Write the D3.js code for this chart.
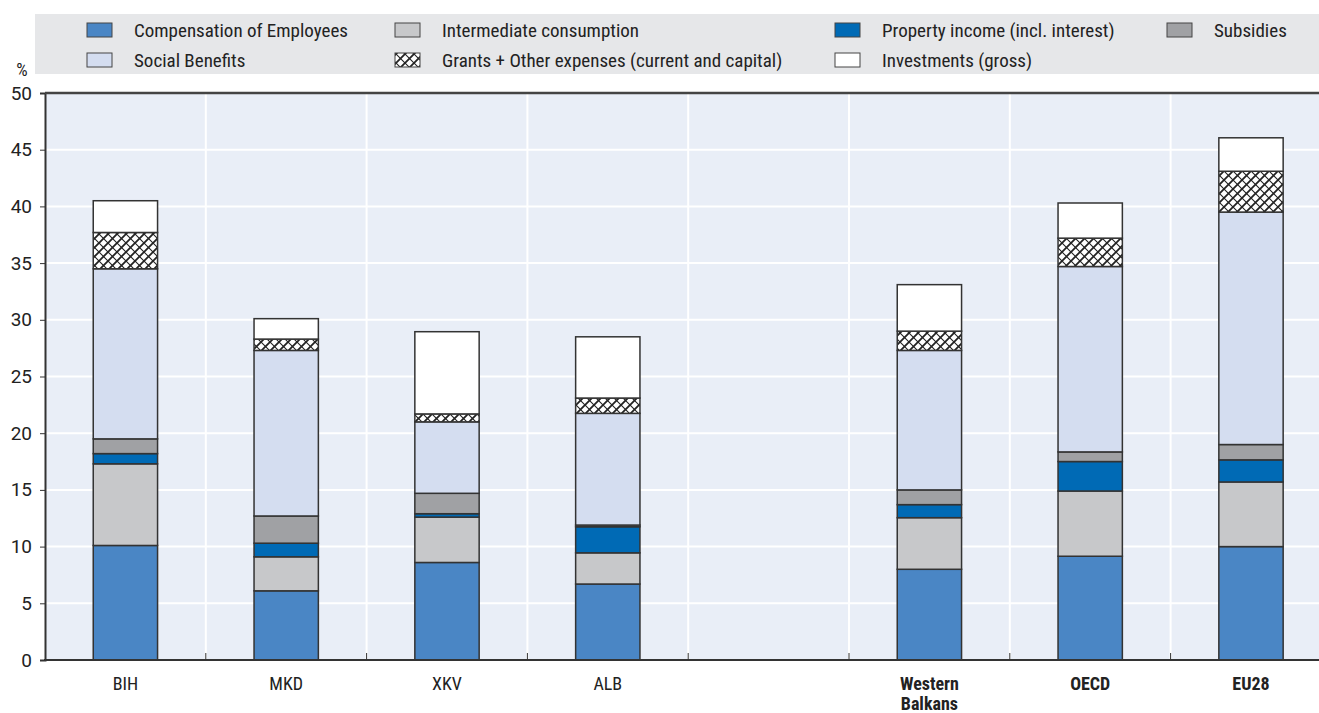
<!DOCTYPE html>
<html>
<head>
<meta charset="utf-8">
<script src="https://cdn.jsdelivr.net/npm/d3@7"></script>
<style>
  html, body { margin: 0; padding: 0; background: #fff; }
  svg { display: block; font-family: "Liberation Sans Narrow", "Roboto Condensed", "Arial Narrow", Roboto, sans-serif; }
</style>
</head>
<body>
<svg id="chart" width="1319" height="713"></svg>
<script>
// Categories (an empty slot separates countries from aggregates)
const categories = ["BIH", "MKD", "XKV", "ALB", "", "Western Balkans", "OECD", "EU28"];
const boldCategories = ["Western Balkans", "OECD", "EU28"];

// Expenditure components, % of GDP
const compensation = [10.1, 6.1, 8.6, 6.7, null, 8.0, 9.15, 10.0];
const intermediate = [7.2, 3.0, 4.0, 2.75, null, 4.55, 5.75, 5.7];
const property     = [0.9, 1.2, 0.3, 2.3, null, 1.15, 2.6, 1.95];
const subsidies    = [1.3, 2.4, 1.8, 0.15, null, 1.3, 0.85, 1.35];
const social       = [15.0, 14.6, 6.3, 9.85, null, 12.3, 16.35, 20.5];
const grants       = [3.2, 1.0, 0.7, 1.35, null, 1.7, 2.5, 3.6];
const investments  = [2.8, 1.8, 7.25, 5.4, null, 4.1, 3.1, 2.95];

const yTicks = [0, 5, 10, 15, 20, 25, 30, 35, 40, 45, 50];

const seriesDefs = [
  { key: "comp",  name: "Compensation of Employees", values: compensation, fill: "#4a86c5" },
  { key: "inter", name: "Intermediate consumption", values: intermediate, fill: "#c7c8ca" },
  { key: "prop",  name: "Property income (incl. interest)", values: property, fill: "#006ab5" },
  { key: "subs",  name: "Subsidies", values: subsidies, fill: "#a0a1a4" },
  { key: "soc",   name: "Social Benefits", values: social, fill: "#d4ddf0" },
  { key: "grant", name: "Grants + Other expenses (current and capital)", values: grants, fill: "url(#hatch)" },
  { key: "inv",   name: "Investments (gross)", values: investments, fill: "#ffffff" }
];

const rows = categories.map((c, i) => {
  const r = { cat: c };
  seriesDefs.forEach(s => { r[s.key] = s.values[i] == null ? 0 : s.values[i]; });
  return r;
});

const svg = d3.select("#chart");
const margin = { left: 45, top: 93, bottom: 660 };
const slotW = 160.8;
const plotRight = margin.left + slotW * categories.length;

// Cross-hatch fill for grants
const defs = svg.append("defs");
const P = 9;
const pat = defs.append("pattern")
  .attr("id", "hatch").attr("patternUnits", "userSpaceOnUse")
  .attr("width", P).attr("height", P);
pat.append("rect").attr("width", P).attr("height", P).attr("fill", "#fff");
pat.append("path").attr("d", `M-2,2 L2,-2 M0,${P} L${P},0 M${P - 2},${P + 2} L${P + 2},${P - 2}`)
  .attr("stroke", "#222").attr("stroke-width", 1.8);
pat.append("path").attr("d", `M-2,${P - 2} L2,${P + 2} M0,0 L${P},${P} M${P - 2},-2 L${P + 2},2`)
  .attr("stroke", "#222").attr("stroke-width", 1.1);

const x = d3.scaleBand().domain(categories).range([margin.left, plotRight]).padding(0);
const y = d3.scaleLinear().domain([0, 50]).range([margin.bottom, margin.top]);
const barW = x.bandwidth() * 0.4;

// Legend panel
const legend = svg.append("g");
legend.append("rect").attr("x", 35).attr("y", 14).attr("width", 1300).attr("height", 60).attr("fill", "#e6e7e9");
const legendPos = [
  { key: "comp", x: 87, y: 30 }, { key: "inter", x: 395, y: 30 }, { key: "prop", x: 835, y: 30 }, { key: "subs", x: 1167, y: 30 },
  { key: "soc", x: 87, y: 60 }, { key: "grant", x: 395, y: 60 }, { key: "inv", x: 835, y: 60 }
];
legendPos.forEach(p => {
  const s = seriesDefs.find(d => d.key === p.key);
  legend.append("rect").attr("x", p.x).attr("y", p.y - 7).attr("width", 25).attr("height", 14)
    .attr("fill", s.fill).attr("stroke", "#444").attr("stroke-width", 1);
  legend.append("text").attr("x", p.x + 47).attr("y", p.y + 6.5)
    .attr("font-size", 19).attr("fill", "#222").text(s.name);
});

// Plot background
svg.append("rect").attr("x", margin.left).attr("y", margin.top)
  .attr("width", plotRight - margin.left).attr("height", margin.bottom - margin.top)
  .attr("fill", "#e9eef7");

// Horizontal gridlines
svg.append("g").selectAll("line").data(yTicks.filter(t => t > 0 && t < 50)).join("line")
  .attr("x1", margin.left).attr("x2", plotRight)
  .attr("y1", d => y(d)).attr("y2", d => y(d))
  .attr("stroke", "#fff").attr("stroke-width", 2);

// Vertical gridlines at slot boundaries
const bounds = categories.slice(1).map(c => x(c));
svg.append("g").selectAll("line").data(bounds).join("line")
  .attr("x1", d => d).attr("x2", d => d)
  .attr("y1", margin.top).attr("y2", margin.bottom)
  .attr("stroke", "#fff").attr("stroke-width", 2);

// Stacked bars
const stack = d3.stack().keys(seriesDefs.map(s => s.key));
const stacked = stack(rows);
const barsG = svg.append("g");
stacked.forEach((layer, li) => {
  const s = seriesDefs[li];
  barsG.append("g").selectAll("rect")
    .data(layer.filter(d => d.data.cat !== ""))
    .join("rect")
    .attr("x", d => x(d.data.cat) + (x.bandwidth() - barW) / 2)
    .attr("width", barW)
    .attr("y", d => y(d[1]))
    .attr("height", d => Math.max(0, y(d[0]) - y(d[1])))
    .attr("fill", s.fill)
    .attr("stroke", "#333").attr("stroke-width", 1.5);
});

// Axes
const yAxis = d3.axisLeft(y).tickValues(yTicks).tickSize(5).tickPadding(8);
const yG = svg.append("g").attr("transform", `translate(${margin.left},0)`).call(yAxis);
yG.select(".domain").attr("stroke", "#333").attr("stroke-width", 2);
yG.selectAll(".tick line").attr("stroke", "#333");
yG.selectAll(".tick text").attr("font-size", 19).attr("fill", "#222")
  .attr("font-family", "'Liberation Sans Narrow', 'Arial Narrow', Roboto, sans-serif");

svg.append("line").attr("x1", margin.left).attr("x2", plotRight)
  .attr("y1", margin.top).attr("y2", margin.top).attr("stroke", "#444").attr("stroke-width", 2.5);
svg.append("line").attr("x1", margin.left - 1).attr("x2", plotRight)
  .attr("y1", margin.bottom).attr("y2", margin.bottom).attr("stroke", "#333").attr("stroke-width", 2);

// Inner ticks at category boundaries
svg.append("g").selectAll("line").data(bounds).join("line")
  .attr("x1", d => d).attr("x2", d => d)
  .attr("y1", margin.bottom - 7).attr("y2", margin.bottom)
  .attr("stroke", "#333").attr("stroke-width", 1);

// Category labels
const xl = svg.append("g");
categories.forEach(c => {
  if (!c) return;
  const cx = x(c) + x.bandwidth() / 2;
  const bold = boldCategories.includes(c);
  const lines = c === "Western Balkans" ? ["Western", "Balkans"] : [c];
  lines.forEach((t, i) => {
    xl.append("text").attr("x", cx).attr("y", 690 + i * 20)
      .attr("text-anchor", "middle").attr("font-size", 18)
      .attr("font-weight", bold ? "bold" : "normal")
      .attr("fill", "#222").text(t);
  });
});

// Unit label
svg.append("text").attr("x", 22).attr("y", 76).attr("text-anchor", "middle")
  .attr("font-size", 18).attr("fill", "#222").text("%");
</script>
</body>
</html>
